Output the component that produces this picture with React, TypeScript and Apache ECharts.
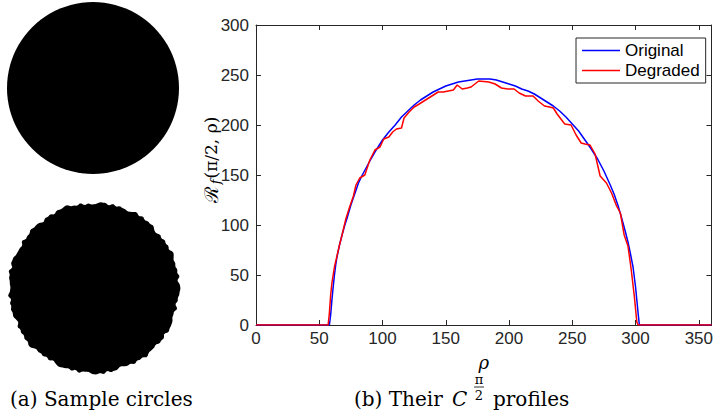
import React, { useEffect, useRef } from "react";
import * as echarts from "echarts";

// Profile of the original circle (rho, value)
const blueRho = [0, 58, 59, 60, 61, 62, 63, 64, 66, 68, 70, 72, 75, 78, 81, 84, 87, 90, 95, 100, 105, 110, 115, 120, 125, 130, 135, 140, 145, 150, 155, 160, 165, 170, 175, 180, 185, 190, 195, 200, 205, 210, 215, 220, 225, 230, 235, 240, 245, 250, 255, 260, 265, 270, 275, 280, 283, 286, 289, 292, 294, 296, 298, 299, 300, 301, 302, 303, 360];
const blueVal = [0, 0, 10, 25, 38, 50, 60, 68, 80, 90, 99, 107, 120, 131, 142, 150, 157, 164, 175, 185, 193, 200, 208, 214, 220, 225, 229, 233, 236, 239, 241, 243, 244, 245, 246, 246, 246, 245, 243, 241, 239, 236, 234, 231, 227, 223, 219, 214, 208, 201, 194, 185, 176, 166, 154, 140, 131, 120, 107, 93, 83, 71, 58, 48, 38, 25, 12, 0, 0];

// Profile of the degraded circle (rho, value)
const redRho = [0, 57, 58, 59, 60, 62, 64, 66, 68, 71, 74, 77, 79, 82, 86, 90, 94, 98, 101, 105, 108, 111, 115, 117, 121, 125, 129, 134, 139, 144, 148, 152, 156, 159, 163, 167, 170, 176, 184, 189, 194, 199, 204, 208, 213, 219, 223, 228, 232, 235, 238, 241, 244, 249, 253, 257, 260, 264, 268, 270, 272, 277, 281, 285, 288, 291, 294, 296.5, 299, 301, 302, 360];
const redVal = [0, 0, 12, 30, 42, 58, 69, 80, 90, 106, 118, 129, 140, 147, 150, 165, 175, 178, 186, 188, 193, 196, 197, 207, 213, 218, 221, 225, 229, 233, 233, 234, 235, 240, 236, 237, 238, 244, 243, 241, 237, 236, 236, 232, 229, 229, 224, 219, 218, 217, 211, 206, 201, 200, 190, 182, 181, 180, 171, 160, 149, 142, 132, 119, 112, 90, 79, 56, 29, 3, 0, 0];

const seriesNames = ["Original", "Degraded"];
const xTicks = { min: 0, max: 360, interval: 50 };
const yTicks = { min: 0, max: 300, interval: 50 };

function jaggedCircle(cx: number, cy: number, r: number): number[][] {
  const pts: number[][] = [];
  const n = 300;
  for (let i = 0; i < n; i++) {
    const a = (i / n) * Math.PI * 2;
    const d =
      0.6 * Math.sin(a * 29 + 0.7) +
      0.5 * Math.sin(a * 47 + 2.1) +
      0.45 * Math.sin(a * 67 + 4.0) +
      0.35 * Math.sin(a * 83 + 0.4) +
      0.7 * Math.sin(a * 13 + 1.3) +
      0.4 * Math.sin(a * 7 + 2.9);
    const rr = r + d;
    pts.push([cx + rr * Math.cos(a), cy + rr * Math.sin(a)]);
  }
  return pts;
}

export default function App() {
  const ref = useRef<HTMLDivElement>(null);
  useEffect(() => {
    if (!ref.current) return;
    const chart = echarts.init(ref.current, undefined, { renderer: "svg" });
    const axisColor = "#262626";
    const labelFont = "'Liberation Sans', Arial, Helvetica, sans-serif";
    const serif = "'DejaVu Serif', serif";
    chart.setOption({
      animation: false,
      backgroundColor: "#ffffff",
      grid: { left: 256, right: 2, top: 25, bottom: 87, containLabel: false },
      legend: {
        data: seriesNames,
        orient: "vertical",
        left: 576,
        top: 38,
        padding: [4, 6, 4, 6],
        itemGap: 3,
        itemWidth: 38,
        itemHeight: 1.5,
        icon: "rect",
        borderColor: axisColor,
        borderWidth: 1,
        backgroundColor: "#ffffff",
        textStyle: { fontFamily: labelFont, fontSize: 17, color: "#000" },
      },
      xAxis: [
        {
          type: "value",
          min: xTicks.min,
          max: xTicks.max,
          interval: xTicks.interval,
          name: "ρ",
          nameLocation: "middle",
          nameGap: 28,
          nameTextStyle: { fontFamily: serif, fontStyle: "italic", fontSize: 18, color: "#000" },
          axisLine: { show: true, lineStyle: { color: axisColor, width: 1 } },
          axisTick: { show: true, inside: true, length: 5, lineStyle: { color: axisColor } },
          axisLabel: { showMaxLabel: false, color: axisColor, fontFamily: labelFont, fontSize: 17, margin: 5 },
          splitLine: { show: false },
        },
        {
          type: "value",
          position: "top",
          min: xTicks.min,
          max: xTicks.max,
          interval: xTicks.interval,
          axisLine: { show: true, onZero: false, lineStyle: { color: axisColor, width: 1 } },
          axisTick: { show: true, inside: true, length: 5, lineStyle: { color: axisColor } },
          axisLabel: { show: false },
          splitLine: { show: false },
        },
      ],
      yAxis: [
        {
          type: "value",
          min: yTicks.min,
          max: yTicks.max,
          interval: yTicks.interval,
          axisLine: { show: true, lineStyle: { color: axisColor, width: 1 } },
          axisTick: { show: true, inside: true, length: 5, lineStyle: { color: axisColor } },
          axisLabel: { color: axisColor, fontFamily: labelFont, fontSize: 17, margin: 7 },
          splitLine: { show: false },
        },
        {
          type: "value",
          position: "right",
          min: yTicks.min,
          max: yTicks.max,
          interval: yTicks.interval,
          axisLine: { show: true, onZero: false, lineStyle: { color: axisColor, width: 1 } },
          axisTick: { show: true, inside: true, length: 5, lineStyle: { color: axisColor } },
          axisLabel: { show: false },
          splitLine: { show: false },
        },
      ],
      series: [
        {
          name: seriesNames[0],
          type: "line",
          symbol: "none",
          showSymbol: false,
          lineStyle: { color: "#0000ff", width: 1.5 },
          itemStyle: { color: "#0000ff" },
          data: blueRho.map((r, i) => [r, blueVal[i]]),
          z: 2,
        },
        {
          name: seriesNames[1],
          type: "line",
          symbol: "none",
          showSymbol: false,
          lineStyle: { color: "#ff0000", width: 1.5 },
          itemStyle: { color: "#ff0000" },
          data: redRho.map((r, i) => [r, redVal[i]]),
          z: 3,
        },
      ],
      graphic: [
        { type: "circle", shape: { cx: 93, cy: 88, r: 86 }, style: { fill: "#000" } },
        { type: "polygon", shape: { points: jaggedCircle(94, 288, 85) }, style: { fill: "#000" } },
        {
          type: "text",
          x: 10,
          y: 399,
          style: { text: "(a) Sample circles", font: `20px ${serif}`, fill: "#000", verticalAlign: "middle" },
        },
        {
          type: "text",
          x: 354,
          y: 399,
          style: { text: "(b) Their ", font: `20px ${serif}`, fill: "#000", verticalAlign: "middle" },
        },
        {
          type: "text",
          x: 452,
          y: 399,
          style: { text: "C", font: `italic 20px ${serif}`, fill: "#000", verticalAlign: "middle" },
        },
        {
          type: "text",
          x: 479,
          y: 379,
          style: { text: "π", font: `13px ${serif}`, fill: "#000", align: "center", verticalAlign: "middle" },
        },
        { type: "line", shape: { x1: 474, y1: 387, x2: 484, y2: 387 }, style: { stroke: "#000", lineWidth: 0.8 } },
        {
          type: "text",
          x: 479,
          y: 395,
          style: { text: "2", font: `13px ${serif}`, fill: "#000", align: "center", verticalAlign: "middle" },
        },
        {
          type: "text",
          x: 493,
          y: 399,
          style: { text: "profiles", font: `20px ${serif}`, fill: "#000", verticalAlign: "middle" },
        },
        {
          type: "text",
          x: 211,
          y: 160,
          rotation: Math.PI / 2,
          style: {
            text: "{c|ℛ}{s|f}{n|(π/2, ρ)}",
            align: "center",
            verticalAlign: "middle",
            rich: {
              c: { font: `19px ${serif}`, fill: "#000", padding: [0, 2, 0, 0] },
              s: { font: `italic 13px ${serif}`, fill: "#000", padding: [8, 1, 0, 0] },
              n: { font: `17px ${serif}`, fill: "#000" },
            },
          },
        },
      ],
    });
    return () => chart.dispose();
  }, []);
  return (
    <div
      ref={ref}
      style={{ position: "fixed", left: 0, top: 0, width: 716, height: 412, background: "#fff" }}
    />
  );
}
